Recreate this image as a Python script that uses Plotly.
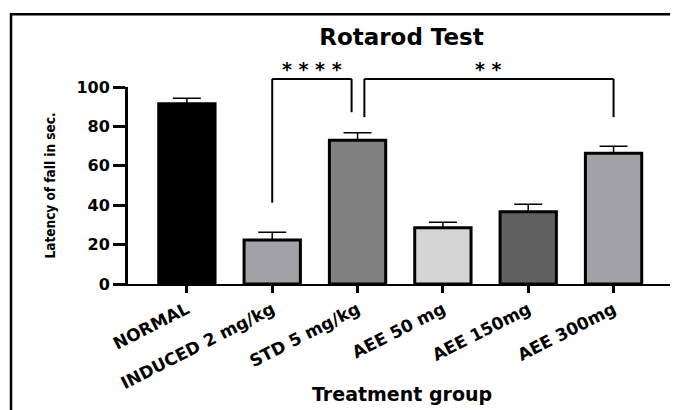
import plotly.graph_objects as go

# ---- data ----
categories = ["NORMAL", "INDUCED 2 mg/kg", "STD 5 mg/kg", "AEE 50 mg", "AEE 150mg", "AEE 300mg"]
means = [91.5, 22.3, 73.0, 28.6, 36.7, 66.4]
sems = [2.8, 4.0, 3.8, 2.8, 3.8, 3.5]
bar_colors = ["#000000", "#a2a1a8", "#808080", "#d4d4d4", "#616161", "#a2a1a8"]
y_ticks = [0, 20, 40, 60, 80, 100]
y_range = [0, 100]

# significance brackets: (left index, right index, top, left foot, right foot, label)
brackets = [
    (1.0, 1.93, 104.1, 41.3, 87.2, "* * * *"),
    (2.08, 5.0, 104.1, 84.7, 84.7, "* *"),
]
star_y = 109.0

BOLD = dict(family="DejaVu Sans", color="black", weight="bold")


def yp(v):
    """data value -> paper fraction of the y axis (range is fixed)"""
    return (v - y_range[0]) / (y_range[1] - y_range[0])


fig = go.Figure()
fig.add_trace(go.Bar(
    x=list(range(len(categories))), y=means, width=0.66,
    marker=dict(color=bar_colors, line=dict(color="black", width=3)),
    error_y=dict(type="data", symmetric=False, array=sems, arrayminus=[0] * len(sems),
                 color="black", thickness=1.5, width=14),
    showlegend=False, hoverinfo="skip",
))

shapes = []
annotations = []
for (x0, x1, top, f0, f1, lab) in brackets:
    for (xa, ya, xb, yb) in [(x0, f0, x0, top), (x0, top, x1, top), (x1, top, x1, f1)]:
        shapes.append(dict(type="line", xref="x", yref="paper",
                           x0=xa, x1=xb, y0=yp(ya), y1=yp(yb),
                           line=dict(color="black", width=2)))
    annotations.append(dict(text=lab, xref="x", yref="paper", x=(x0 + x1) / 2, y=yp(star_y),
                            xanchor="center", yanchor="middle", showarrow=False,
                            font=dict(size=19, **BOLD)))

# figure frame (open on the right and bottom, as in the cropped original)
shapes += [
    dict(type="path", xref="paper", yref="paper", layer="above",
         path="M -0.2139,-0.66 L -0.2139,1.3696 L 1.0055,1.3696",
         line=dict(color="black", width=2.5)),
]

annotations += [
    dict(text="Treatment group", xref="paper", yref="paper", x=0.5, y=-0.5595,
         xanchor="center", yanchor="middle", showarrow=False,
         font=dict(size=19, **BOLD)),
    dict(text="Latency of fall in sec.", xref="paper", yref="paper", x=-0.1426, y=0.5,
         xanchor="center", yanchor="middle", showarrow=False, textangle=-90,
         font=dict(family="DejaVu Sans Condensed", weight="bold", size=13.5, color="black")),
]

# the page adds an 8px body margin, so 670x402 fills the 678x410 window exactly
fig.update_layout(
    width=670, height=402,
    margin=dict(l=120, r=3, t=79, b=125.5, pad=0),
    paper_bgcolor="white", plot_bgcolor="white",
    title=dict(text="Rotarod Test", x=0.5, xref="paper", xanchor="center",
               y=1 - 28.7 / 402, yref="container", yanchor="middle",
               font=dict(size=23, **BOLD)),
    xaxis=dict(
        tickmode="array", tickvals=list(range(len(categories))), ticktext=categories,
        range=[-0.69, 5.72], showgrid=False, zeroline=False,
        showline=True, linecolor="black", linewidth=2,
        ticks="outside", ticklen=7, tickwidth=3, tickcolor="black",
        tickangle=-27, tickfont=dict(size=17, **BOLD),
    ),
    yaxis=dict(
        range=y_range, tickvals=y_ticks, showgrid=False, zeroline=False,
        showline=True, linecolor="black", linewidth=3,
        ticks="outside", ticklen=12, tickwidth=3, tickcolor="black",
        tickfont=dict(size=16, **BOLD),
    ),
    annotations=annotations,
    shapes=shapes,
)

fig.write_html("out.html", config={"displayModeBar": False})
